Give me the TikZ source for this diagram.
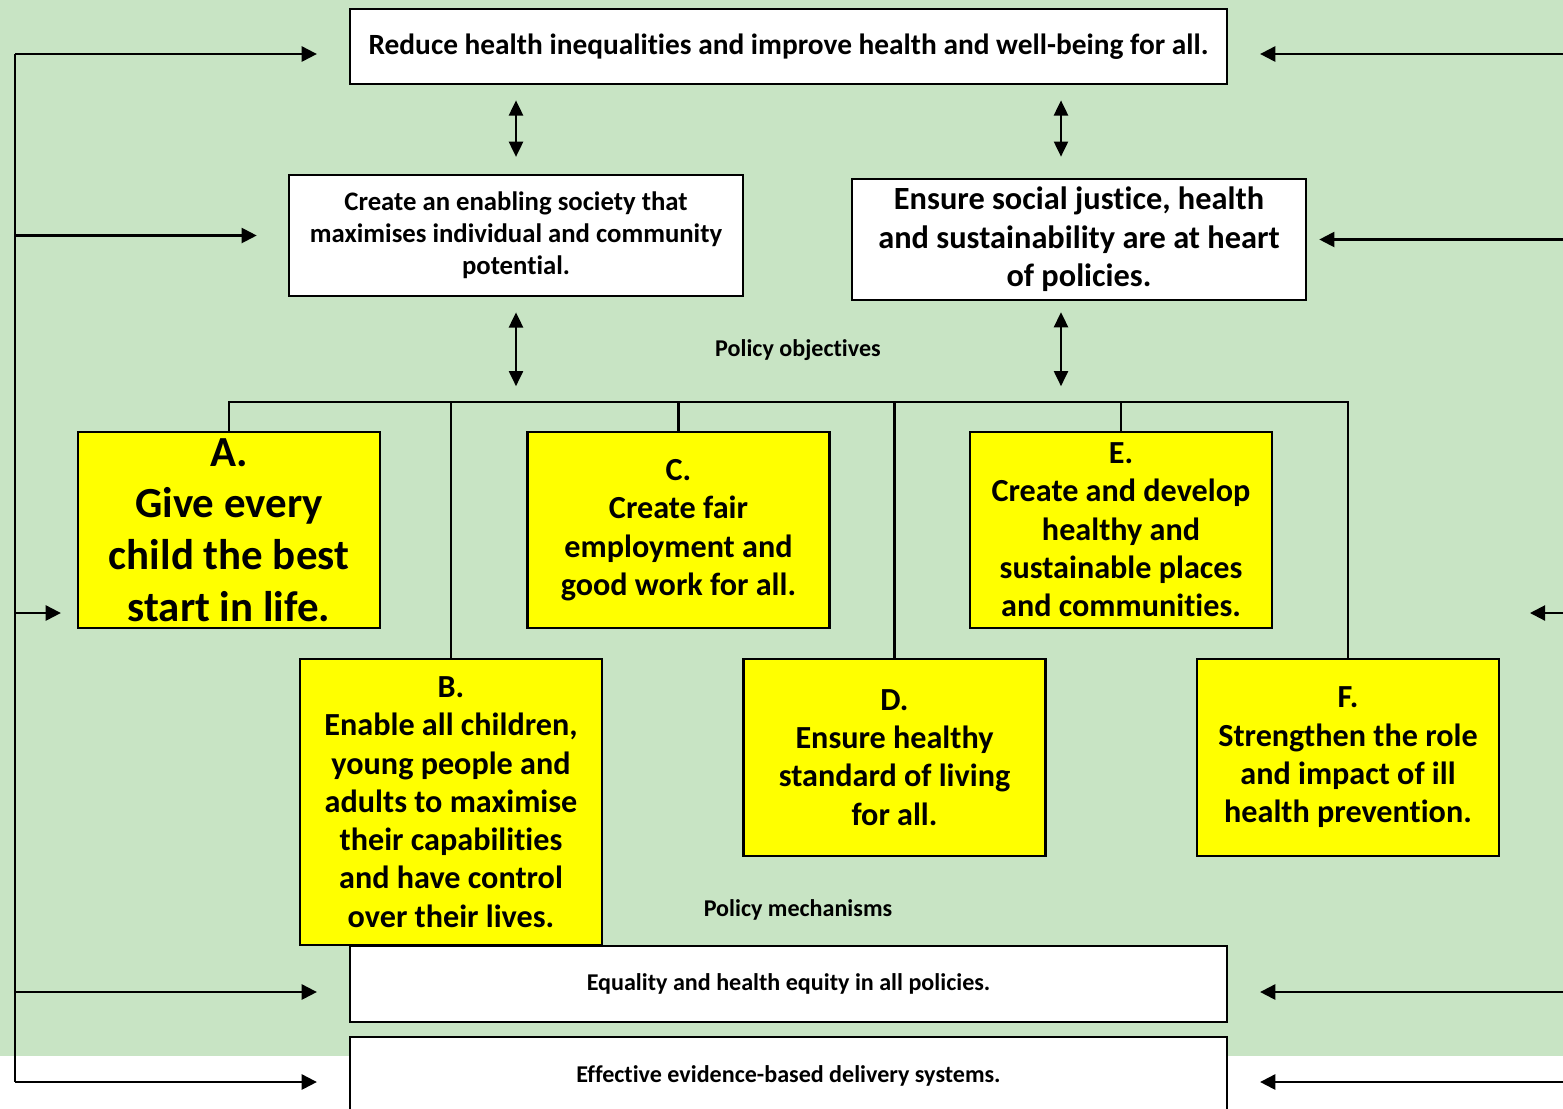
\documentclass[tikz,border=0pt]{standalone}
\usepackage{fontspec}
\setmainfont{Carlito}[RawFeature=-liga]
\usetikzlibrary{arrows.meta,positioning,calc}
\definecolor{gridgreen}{RGB}{200,228,196}
\definecolor{boxyellow}{RGB}{255,255,0}

\begin{document}
\begin{tikzpicture}[x=0.01cm,y=-0.01cm,
    whitebox/.style={draw,line width=0.7pt,fill=white,inner sep=0pt,align=center},
    objbox/.style={draw,line width=0.7pt,fill=boxyellow,inner sep=0pt,align=center,
        minimum width=3.02cm,font=\fontsize{9.15pt}{10.9pt}\selectfont\bfseries},
    link/.style={line width=0.6pt},
    twoway/.style={line width=0.6pt,{Triangle[length=4.3pt,width=4pt]}-{Triangle[length=4.3pt,width=4pt]}},
    feed/.style={line width=0.6pt,-{Triangle[length=4.3pt,width=4.3pt]},shorten >=9pt},
    tag/.style={font=\fontsize{6.85pt}{8.3pt}\selectfont\bfseries}]
    \clip (0,0) rectangle (1563,1108);
    \fill[gridgreen] (0,0) rectangle (1563,1056);

    % Goal and aims
    \node[whitebox,minimum width=8.77cm,minimum height=0.75cm,
        font=\fontsize{8.35pt}{10pt}\selectfont\bfseries] (goal) at (788.5,46.5)
        {Reduce health inequalities and improve health and well-being for all.};
    \node[whitebox,minimum width=4.54cm,minimum height=1.21cm,
        font=\fontsize{7.6pt}{9.1pt}\selectfont\bfseries] (enabling) at (516,235.5)
        {Create an enabling society that\\maximises individual and community\\potential.};
    \node[whitebox,minimum width=4.54cm,minimum height=1.21cm,
        font=\fontsize{9.2pt}{10.9pt}\selectfont\bfseries] (justice) at (1079,239.5)
        {Ensure social justice, health\\and sustainability are at heart\\of policies.};
    \draw[twoway,shorten <=4.8pt,shorten >=4.3pt] (enabling.north) -- (enabling.north |- goal.south);
    \coordinate (jtop) at ($(justice.north)+(-18,0)$);
    \coordinate (jbot) at ($(justice.south)+(-18,0)$);
    \draw[twoway,shorten <=6pt,shorten >=4.3pt] (jtop) -- (jtop |- goal.south);

    % Policy objectives
    \node[tag] (objectives) at (798,350) {Policy objectives};
    \coordinate (bus) at (0,402);
    \draw[twoway,shorten <=4.3pt,shorten >=4.5pt] (enabling.south) -- (enabling.south |- bus);
    \draw[twoway,shorten <=3.1pt,shorten >=4.5pt] (jbot) -- (jbot |- bus);

    \node[objbox,minimum height=1.96cm,font=\fontsize{12.2pt}{14.7pt}\selectfont\bfseries]
        (A) at (229,530) {A.\\Give every\\child the best\\start in life.};
    \node[objbox,minimum height=2.86cm] (B) at (451,802)
        {B.\\Enable all children,\\young people and\\adults to maximise\\their capabilities\\and have control\\over their lives.};
    \node[objbox,minimum height=1.96cm] (C) at (678.5,530)
        {C.\\Create fair\\employment and\\good work for all.};
    \node[objbox,minimum height=1.97cm] (D) at (894.5,757.5)
        {D.\\Ensure healthy\\standard of living\\for all.};
    \node[objbox,minimum height=1.96cm] (E) at (1121,530)
        {E.\\Create and develop\\healthy and\\sustainable places\\and communities.};
    \node[objbox,minimum height=1.97cm] (F) at (1348,757.5)
        {F.\\Strengthen the role\\and impact of ill\\health prevention.};

    % Tree
    \draw[link] (A.north) -- (A.north |- bus) -- (F.north |- bus) -- (F.north);
    \draw[link] (B.north) -- (B.north |- bus);
    \draw[link] (C.north) -- (C.north |- bus);
    \draw[link] (D.north) -- (D.north |- bus);
    \draw[link] (E.north) -- (E.north |- bus);

    % Policy mechanisms
    \node[tag] (mechanisms) at (798,910) {Policy mechanisms};
    \node[whitebox,minimum width=8.77cm,minimum height=0.76cm,tag] (equality) at (788.5,984)
        {Equality and health equity in all policies.};
    \node[whitebox,minimum width=8.77cm,minimum height=0.78cm,tag] (delivery) at (788.5,1076)
        {Effective evidence-based delivery systems.};

    % Left feedback
    \coordinate (ltop) at (15,54);
    \coordinate (lbot) at (15,1082);
    \coordinate (Ain) at ($(A.west)+(0,83)$);
    \draw[link] (ltop) -- (lbot);
    \draw[feed] (ltop) -- (ltop -| goal.west);
    \draw[feed,shorten >=8.8pt] (ltop |- enabling.west) -- (enabling.west);
    \draw[feed,shorten >=4.5pt] (ltop |- Ain) -- (Ain);
    \draw[feed] (ltop |- 0,992) -- (goal.west |- 0,992);
    \draw[feed] (lbot) -- (lbot -| delivery.west);

    % Right feedback
    \coordinate (rtop) at (1563,54);
    \coordinate (rmid) at (1530,613);
    \draw[feed] (rtop) -- (rtop -| goal.east);
    \draw[feed,shorten >=3.4pt] (justice.east -| rtop) -- (justice.east);
    \draw[feed,shorten >=0pt] (rmid -| rtop) -- (rmid);
    \draw[feed] (rtop |- 0,992) -- (goal.east |- 0,992);
    \draw[feed] (rtop |- 0,1082) -- (goal.east |- 0,1082);
\end{tikzpicture}
\end{document}
